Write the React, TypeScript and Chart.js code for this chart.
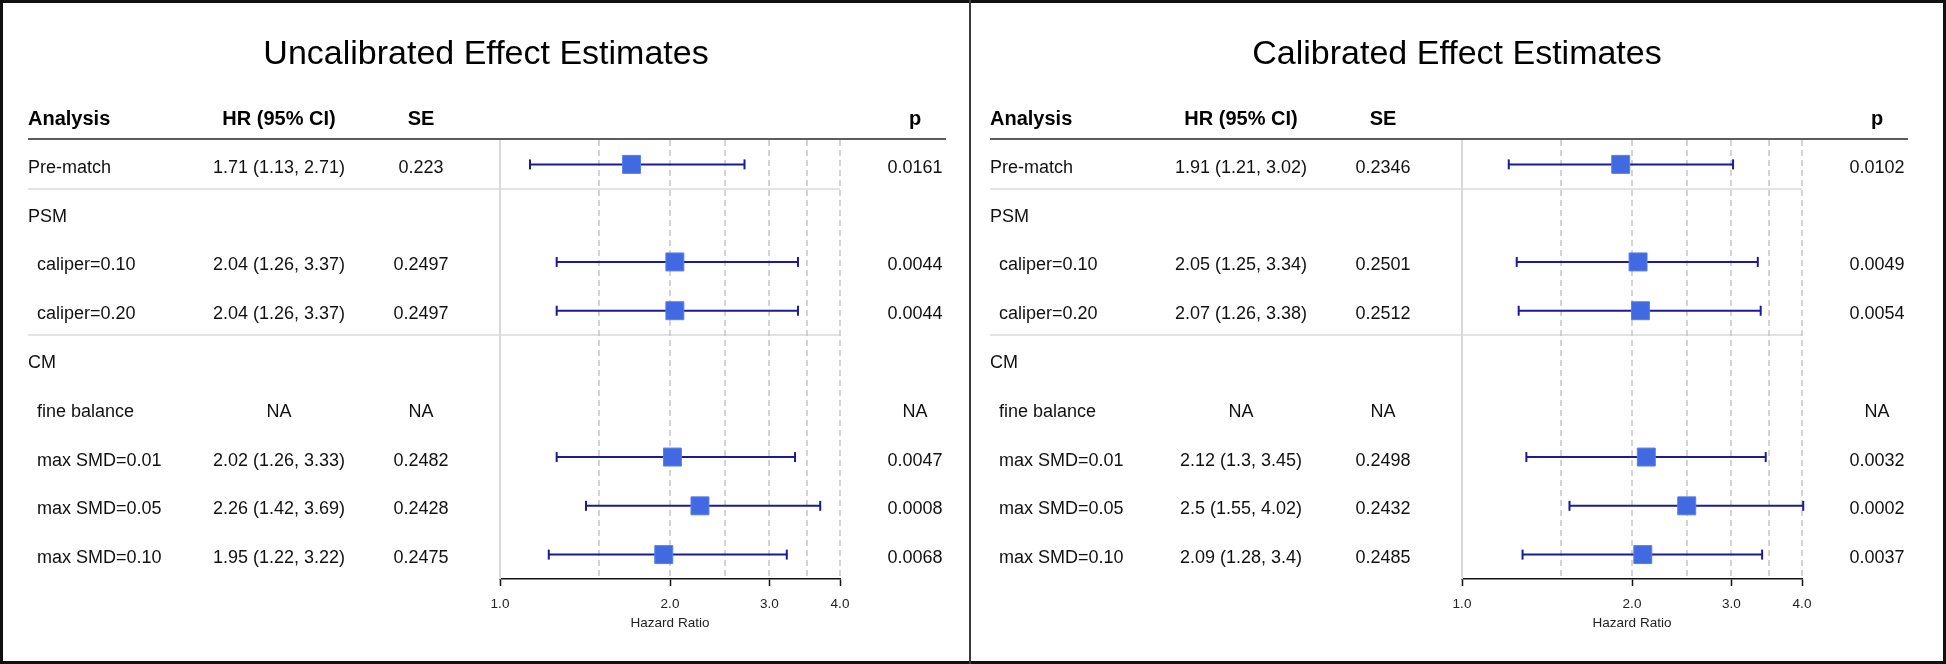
import React, { useEffect, useRef } from 'react';
import { Chart, registerables } from 'chart.js';

Chart.register(...registerables);

// ---------------- data ----------------
const ROW_LABELS = ['Pre-match', 'PSM', 'caliper=0.10', 'caliper=0.20', 'CM', 'fine balance', 'max SMD=0.01', 'max SMD=0.05', 'max SMD=0.10'];
const ROW_INDENT = [false, false, true, true, false, true, true, true, true];
const ROW_GROUP = [false, true, false, false, true, false, false, false, false];

const UNCAL_HR = [1.71, null, 2.04, 2.04, null, null, 2.02, 2.26, 1.95];
const UNCAL_LO = [1.13, null, 1.26, 1.26, null, null, 1.26, 1.42, 1.22];
const UNCAL_HI = [2.71, null, 3.37, 3.37, null, null, 3.33, 3.69, 3.22];
const UNCAL_SE = ['0.223', '', '0.2497', '0.2497', '', 'NA', '0.2482', '0.2428', '0.2475'];
const UNCAL_P = ['0.0161', '', '0.0044', '0.0044', '', 'NA', '0.0047', '0.0008', '0.0068'];

const CAL_HR = [1.91, null, 2.05, 2.07, null, null, 2.12, 2.5, 2.09];
const CAL_LO = [1.21, null, 1.25, 1.26, null, null, 1.3, 1.55, 1.28];
const CAL_HI = [3.02, null, 3.34, 3.38, null, null, 3.45, 4.02, 3.4];
const CAL_SE = ['0.2346', '', '0.2501', '0.2512', '', 'NA', '0.2498', '0.2432', '0.2485'];
const CAL_P = ['0.0102', '', '0.0049', '0.0054', '', 'NA', '0.0032', '0.0002', '0.0037'];

const HEADERS = ['Analysis', 'HR (95% CI)', 'SE', 'p'];
const X_TICKS = [1, 2, 3, 4];
const X_GRID_DASHED = [1.5, 2, 2.5, 3, 3.5, 4];
const ROW_SEPARATORS = [1.5, 4.5];
const AXIS_TITLE = 'Hazard Ratio';

// ---------------- styling / layout ----------------
const FAMILY = '"Liberation Sans", Arial, Helvetica, sans-serif';
const H = 664;
const BOX_BLUE = '#4169E1';
const CI_NAVY = '#1b1b92';
const L = {
  labelX: 28,
  indentX: 37,
  hrX: 279,
  seX: 421,
  pX: 915,
  headerRight: 946,
  areaLeft: 500,
  areaRight: 840,
  areaTop: 140,
  areaBottom: 579,
  axisHeight: 56,
};

type PanelProps = {
  title: string;
  titleCenter: number;
  width: number;
  left: number;
  hr: (number | null)[];
  lo: (number | null)[];
  hi: (number | null)[];
  se: string[];
  p: string[];
};

function Panel(props: PanelProps) {
  const ref = useRef<HTMLCanvasElement | null>(null);
  useEffect(() => {
    const canvas = ref.current;
    if (!canvas) return;
    const { hr, lo, hi, se, p, title, titleCenter, width } = props;

    const boxData: any[] = [];
    hr.forEach((v, i) => {
      if (v != null) boxData.push({ x: v, y: i + 1 });
    });
    const datasets: any[] = [
      {
        data: boxData,
        pointStyle: 'rect',
        pointRadius: 12.7,
        pointHoverRadius: 12.7,
        pointBackgroundColor: BOX_BLUE,
        pointBorderColor: '#5a7fe8',
        pointBorderWidth: 1,
        showLine: false,
        clip: 20,
      },
    ];
    hr.forEach((v, i) => {
      if (v == null) return;
      datasets.push({
        data: [
          { x: lo[i], y: i + 1 },
          { x: hi[i], y: i + 1 },
        ],
        showLine: true,
        borderColor: CI_NAVY,
        borderWidth: 2,
        pointStyle: 'line',
        pointRotation: 90,
        pointRadius: 5,
        pointHoverRadius: 5,
        pointBorderColor: CI_NAVY,
        pointBackgroundColor: CI_NAVY,
        pointBorderWidth: 2,
        clip: 20,
      });
    });

    const tablePlugin = {
      id: 'forestTable',
      beforeDatasetsDraw(chart: any) {
        const { ctx, chartArea: ca, scales } = chart;
        const x = scales.x;
        const y = scales.y;
        const seg = (x1: number, y1: number, x2: number, y2: number) => {
          ctx.beginPath();
          ctx.moveTo(x1, y1);
          ctx.lineTo(x2, y2);
          ctx.stroke();
        };
        ctx.save();
        // row separators
        ctx.strokeStyle = '#e3e3e3';
        ctx.lineWidth = 2;
        ROW_SEPARATORS.forEach((v) => {
          const py = Math.round(y.getPixelForValue(v));
          seg(L.labelX, py, ca.right, py);
        });
        // reference line at 1
        const x1 = Math.round(x.getPixelForValue(X_TICKS[0]));
        ctx.strokeStyle = '#d9d9d9';
        ctx.lineWidth = 2;
        seg(x1, ca.top, x1, ca.bottom);
        // dashed grid
        ctx.setLineDash([6, 4]);
        ctx.strokeStyle = '#c6c6c6';
        ctx.lineWidth = 1.5;
        X_GRID_DASHED.forEach((v) => {
          const px = Math.round(x.getPixelForValue(v));
          seg(px, ca.top, px, ca.bottom);
        });
        ctx.setLineDash([]);
        // header line
        ctx.strokeStyle = '#5c5c5c';
        ctx.lineWidth = 2;
        seg(L.labelX, ca.top - 1, L.headerRight, ca.top - 1);
        ctx.restore();
      },
      afterDraw(chart: any) {
        const { ctx, scales } = chart;
        const y = scales.y;
        ctx.save();
        ctx.fillStyle = '#000';
        ctx.textBaseline = 'alphabetic';
        // title
        ctx.font = `normal 34px ${FAMILY}`;
        ctx.textAlign = 'center';
        ctx.fillText(title, titleCenter, 64);
        // headers
        const hy = y.getPixelForValue(0) + 9;
        ctx.font = `bold 20px ${FAMILY}`;
        ctx.textAlign = 'left';
        ctx.fillText(HEADERS[0], L.labelX, hy);
        ctx.textAlign = 'center';
        ctx.fillText(HEADERS[1], L.hrX, hy);
        ctx.fillText(HEADERS[2], L.seX, hy);
        ctx.fillText(HEADERS[3], L.pX, hy);
        // rows
        ctx.font = `normal 18px ${FAMILY}`;
        ctx.fillStyle = '#111';
        ROW_LABELS.forEach((lab, i) => {
          const ry = y.getPixelForValue(i + 1) + 8.5;
          ctx.textAlign = 'left';
          ctx.fillText(lab, ROW_INDENT[i] ? L.indentX : L.labelX, ry);
          if (ROW_GROUP[i]) return;
          ctx.textAlign = 'center';
          const hrText = hr[i] == null ? 'NA' : `${hr[i]} (${lo[i]}, ${hi[i]})`;
          ctx.fillText(hrText, L.hrX, ry);
          ctx.fillText(se[i], L.seX, ry);
          ctx.fillText(p[i], L.pX, ry);
        });
        ctx.restore();
      },
    };

    const chart = new Chart(canvas, {
      type: 'scatter',
      data: { datasets },
      options: {
        animation: false,
        responsive: false,
        devicePixelRatio: 1,
        events: [],
        layout: {
          padding: {
            left: L.areaLeft,
            right: width - L.areaRight,
            top: L.areaTop,
            bottom: H - L.areaBottom - L.axisHeight,
          },
        },
        plugins: {
          legend: { display: false },
          tooltip: { enabled: false },
        },
        scales: {
          x: {
            type: 'logarithmic',
            position: 'bottom',
            min: 1,
            max: 4,
            afterBuildTicks: (s: any) => {
              s.ticks = X_TICKS.map((v) => ({ value: v }));
            },
            afterFit: (s: any) => {
              s.height = L.axisHeight;
            },
            ticks: {
              autoSkip: false,
              maxRotation: 0,
              minRotation: 0,
              padding: 10,
              color: '#222',
              font: { size: 13.5, family: FAMILY },
              callback: (v: any) => Number(v).toFixed(1),
            },
            grid: {
              display: true,
              drawOnChartArea: false,
              drawTicks: true,
              tickLength: 7,
              tickColor: '#111',
              tickWidth: 1.5,
            },
            border: { display: true, color: '#111', width: 1.5 },
            title: {
              display: true,
              text: AXIS_TITLE,
              color: '#222',
              font: { size: 13.5, family: FAMILY },
              padding: { top: 0, bottom: 4 },
            },
          },
          y: {
            type: 'linear',
            display: false,
            min: 0.5,
            max: 9.5,
            reverse: true,
          },
        },
      },
      plugins: [tablePlugin],
    } as any);
    return () => chart.destroy();
  }, []);

  return (
    <canvas
      ref={ref}
      width={props.width}
      height={H}
      style={{ position: 'absolute', left: props.left, top: 0, width: props.width, height: H, display: 'block' }}
    />
  );
}

export default function App() {
  return (
    <div
      style={{
        position: 'fixed',
        left: 0,
        top: 0,
        width: 1946,
        height: H,
        background: '#fff',
        overflow: 'hidden',
      }}
    >
      <Panel
        title="Uncalibrated Effect Estimates"
        titleCenter={486}
        width={970}
        left={0}
        hr={UNCAL_HR}
        lo={UNCAL_LO}
        hi={UNCAL_HI}
        se={UNCAL_SE}
        p={UNCAL_P}
      />
      <Panel
        title="Calibrated Effect Estimates"
        titleCenter={495}
        width={984}
        left={962}
        hr={CAL_HR}
        lo={CAL_LO}
        hi={CAL_HI}
        se={CAL_SE}
        p={CAL_P}
      />
      <div
        style={{
          position: 'absolute',
          left: 0,
          top: 0,
          width: 1946,
          height: H,
          boxSizing: 'border-box',
          border: '3px solid #111',
          pointerEvents: 'none',
        }}
      />
      <div
        style={{
          position: 'absolute',
          left: 969,
          top: 0,
          width: 2,
          height: H,
          background: '#3c3c3c',
          pointerEvents: 'none',
        }}
      />
    </div>
  );
}
